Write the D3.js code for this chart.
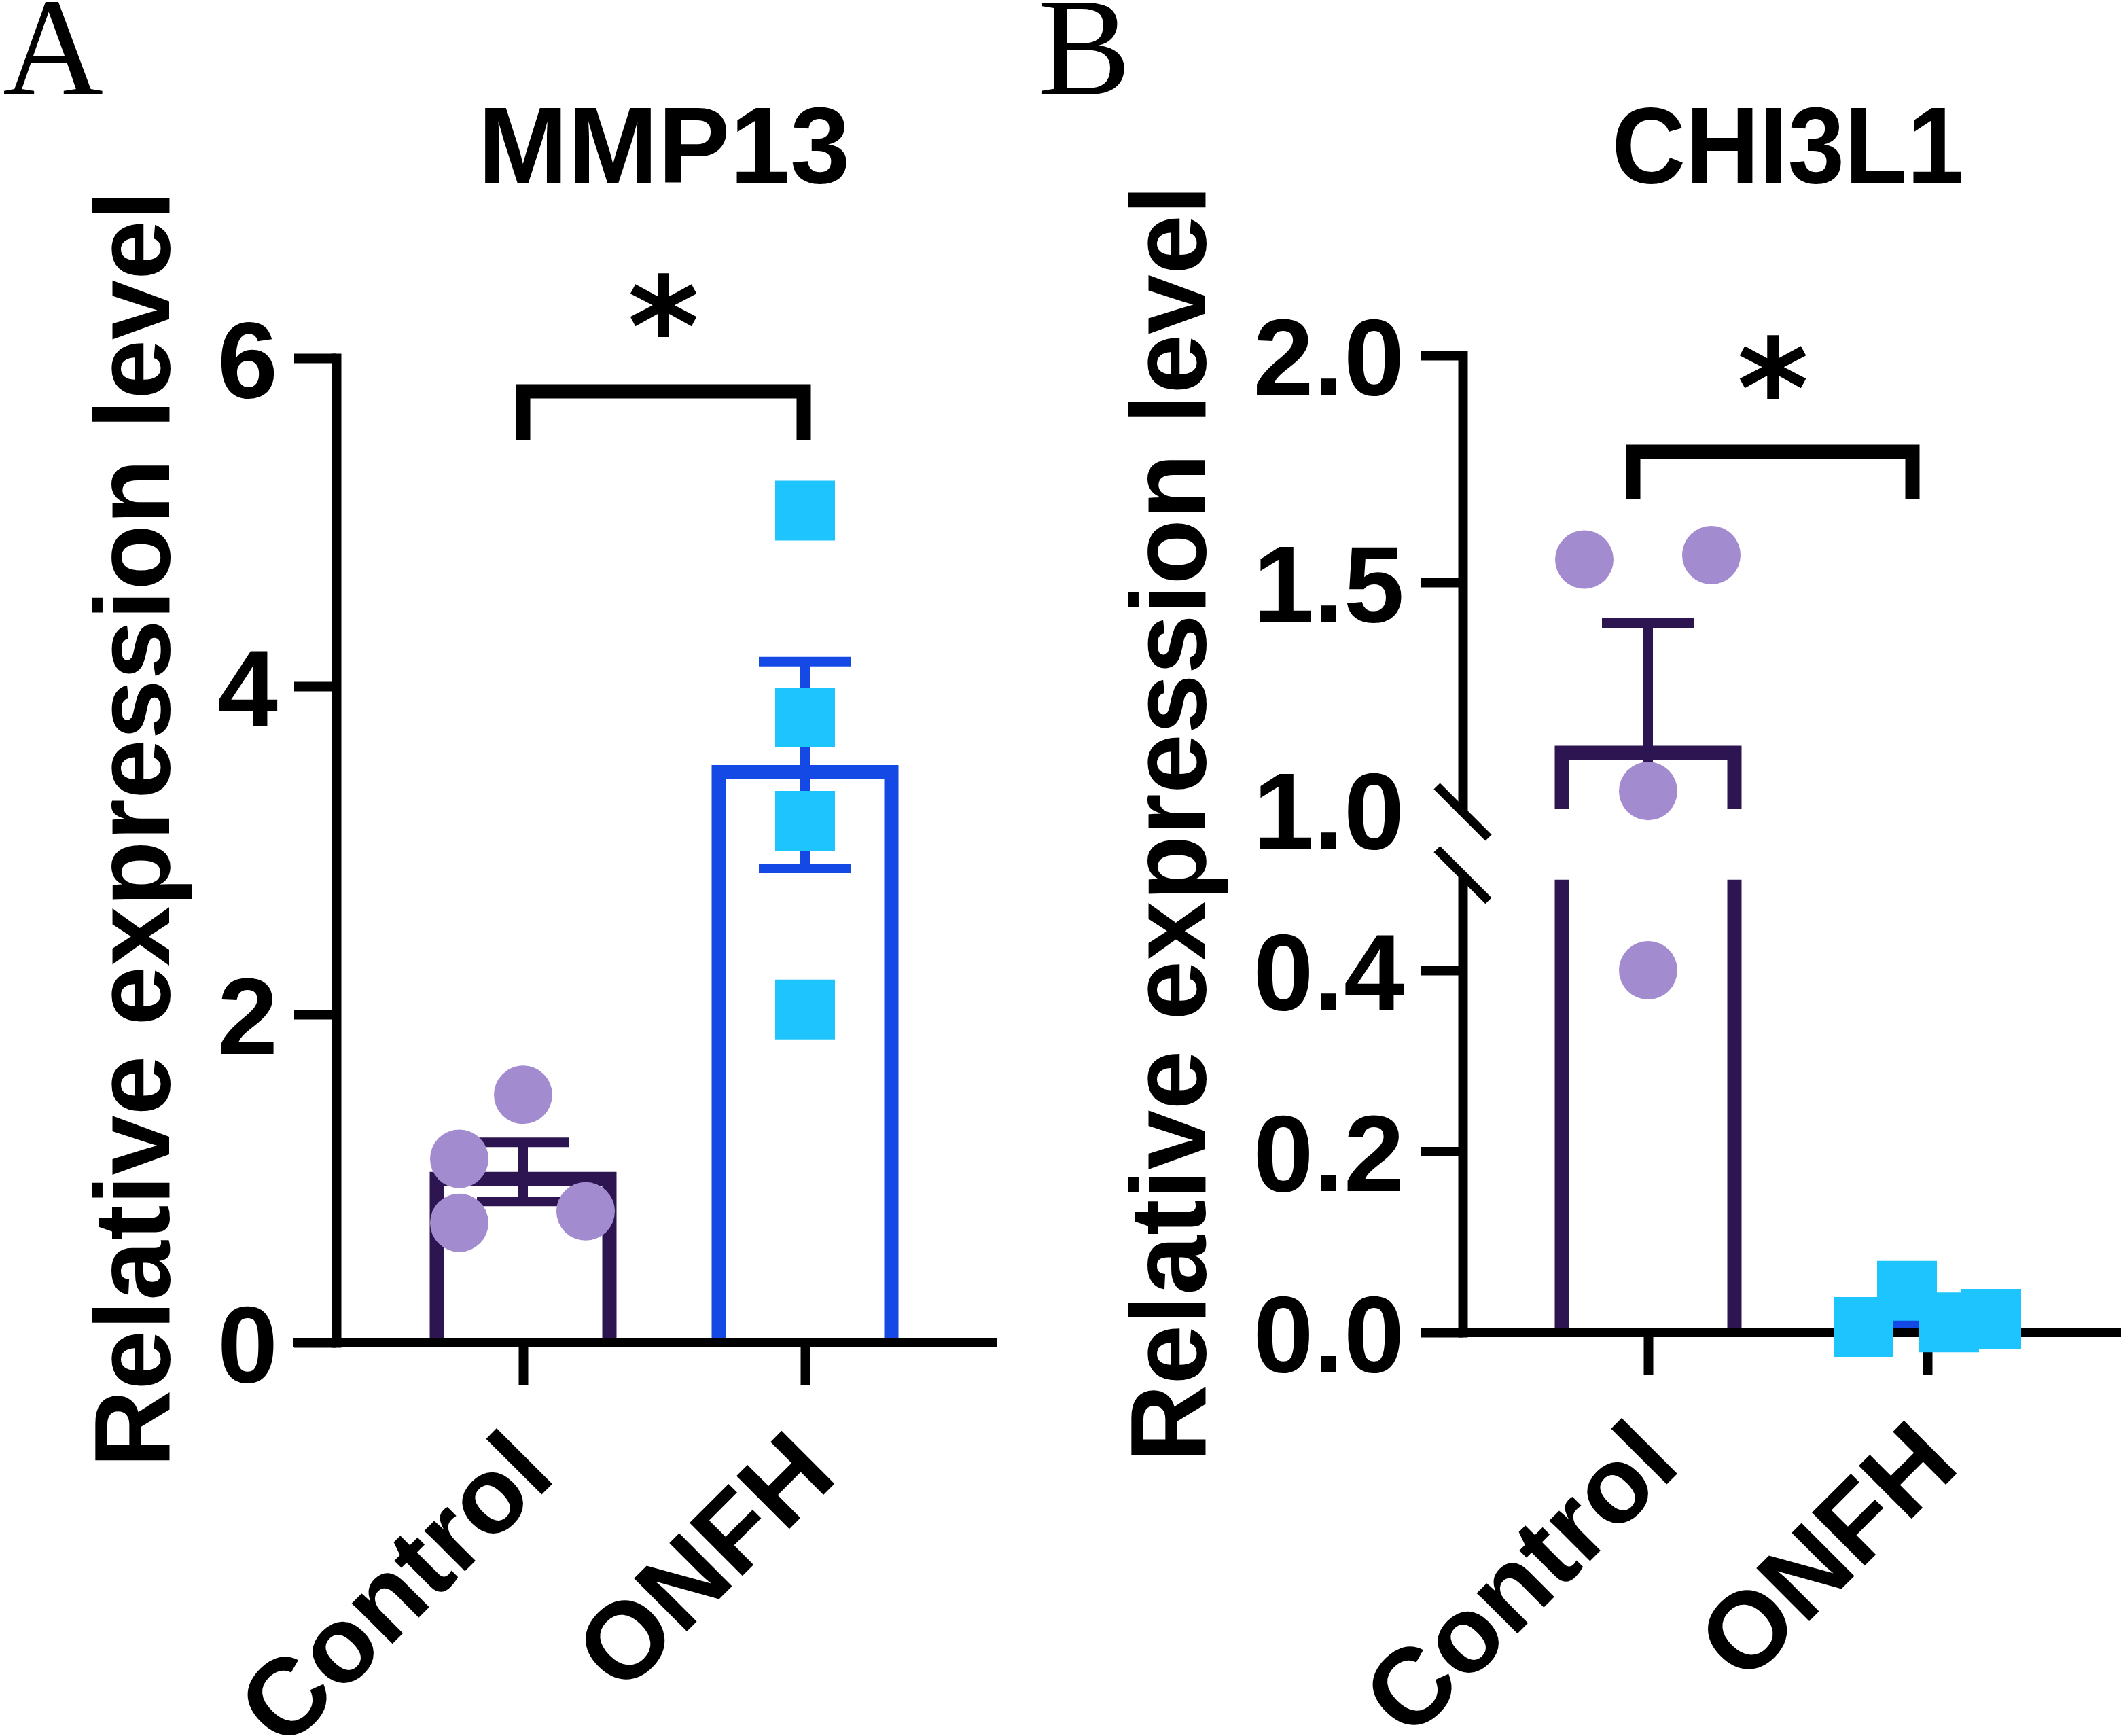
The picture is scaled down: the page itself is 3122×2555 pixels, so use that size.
<!DOCTYPE html>
<html>
<head>
<meta charset="utf-8">
<script src="https://cdn.jsdelivr.net/npm/d3@7"></script>
<style>
  body { margin: 0; background: #fff; }
  svg { display: block; }
</style>
</head>
<body>
<svg id="chart" width="3122" height="2555"></svg>
<script>
// ---- values ----
const groups = ['Control', 'ONFH']

// panel A: MMP13
const mmp13Control = [1.51, 1.12, 0.73, 0.80]
const mmp13Onfh = [5.07, 3.81, 3.18, 2.03]
const mmp13Mean = [1.04, 3.52]
const mmp13Sem = [0.18, 0.63]
const mmp13Ticks = [0, 2, 4, 6]

// panel B: CHI3L1 (broken y axis)
const chi3l1Control = [1.55, 1.56, 1.04, 0.40]
const chi3l1Onfh = [0.006, 0.046, 0.011, 0.015]
const chi3l1Mean = [1.14, 0.014]
const chi3l1Sem = [0.27, 0.009]
const chi3l1TicksLow = [0, 0.2, 0.4]
const chi3l1TicksHigh = [1.0, 1.5, 2.0]

// ---- setup ----
const W = 3122, H = 2555
const font = '"Liberation Sans", Arial, Helvetica, sans-serif'
const strokeColor = ['#2D1552', '#1449E6']
const fillColor = ['#A38BD0', '#1EC4FD']
const barWidth = 275
const barStroke = 21
const capWidth = 136

const svg = d3.select('#chart')
svg.append('rect').attr('width', W).attr('height', H).attr('fill', '#fff')

// layout of each panel (pixels), kept apart from the values
const panels = [
  {
    key: 'A', letterX: 4, title: 'MMP13', titleLength: null,
    centers: [770, 1185], yAxisX: 495, xAxis: [432, 1467], base: 1976,
    yLabelX: 249, yLabelY: 1220,
    segments: [{ domain: [0, 6], range: [1976, 527], ticks: mmp13Ticks, fmt: d3.format('d') }],
    points: [mmp13Control, mmp13Onfh], mean: mmp13Mean, sem: mmp13Sem,
    jitter: [[0, -94, -94, 92], [0, 0, 0, 0]],
    bracket: { dx: [0, -2], y: 576, drop: 71 }, starY: 449
  },
  {
    key: 'B', letterX: 1528, title: 'CHI3L1', titleLength: 518,
    centers: [2426, 2837], yAxisX: 2153, xAxis: [2091, 3122], base: 1961,
    yLabelX: 1774, yLabelY: 1212,
    segments: [
      { domain: [0, 0.5], range: [1961, 1294.75], ticks: chi3l1TicksLow, fmt: d3.format('.1f') },
      { domain: [1, 2], range: [1191, 523], ticks: chi3l1TicksHigh, fmt: d3.format('.1f'), hideTick: [1] }
    ],
    points: [chi3l1Control, chi3l1Onfh], mean: chi3l1Mean, sem: chi3l1Sem,
    jitter: [[-94, 93, 0, 0], [-94, -30, 32, 94]],
    bracket: { dx: [-22, -22], y: 665, drop: 70 }, starY: 540
  }
]

function drawPanel(p) {
  const g = svg.append('g').attr('class', 'panel-' + p.key)
  const x = d3.scalePoint().domain(groups).range(p.centers)
  const segs = p.segments.map(s => ({ ...s, y: d3.scaleLinear().domain(s.domain).range(s.range) }))
  const yOf = v => {
    const s = segs.find(s => v >= s.domain[0] && v <= s.domain[1]) || segs[segs.length - 1]
    return s.y(v)
  }

  // bars + error bars, clipped to each axis segment
  segs.forEach((s, si) => {
    const id = `clip-${p.key}-${si}`
    const top = si === segs.length - 1 ? 0 : s.y(s.domain[1])
    const bottom = si === 0 ? H : s.y(s.domain[0])
    svg.append('clipPath').attr('id', id)
      .append('rect').attr('x', 0).attr('y', top).attr('width', W).attr('height', bottom - top)
    const sg = g.append('g').attr('clip-path', `url(#${id})`)
    const half = barStroke / 2

    sg.selectAll('path.bar')
      .data(groups)
      .join('path')
      .attr('class', 'bar')
      .attr('fill', 'none')
      .attr('stroke', (d, i) => strokeColor[i])
      .attr('stroke-width', barStroke)
      .attr('d', (d, i) => {
        const l = x(d) - barWidth / 2 + half
        const r = x(d) + barWidth / 2 - half
        const t = s.y(p.mean[i]) + half
        const b = s.y(0)
        return `M${l},${b}L${l},${t}L${r},${t}L${r},${b}`
      })

    sg.selectAll('path.err')
      .data(groups)
      .join('path')
      .attr('class', 'err')
      .attr('fill', 'none')
      .attr('stroke', (d, i) => strokeColor[i])
      .attr('stroke-width', 14)
      .attr('d', (d, i) => {
        const hi = s.y(p.mean[i] + p.sem[i])
        const lo = s.y(p.mean[i] - p.sem[i])
        const cx = x(d)
        return `M${cx},${hi}L${cx},${lo}` +
          `M${cx - capWidth / 2},${hi}L${cx + capWidth / 2},${hi}` +
          `M${cx - capWidth / 2},${lo}L${cx + capWidth / 2},${lo}`
      })
  })

  // y axis (one per segment)
  segs.forEach(s => {
    const ax = d3.axisLeft(s.y)
      .tickValues(s.ticks)
      .tickSize(62)
      .tickSizeOuter(0)
      .tickPadding(24)
      .tickFormat(s.fmt)
    const ag = g.append('g').attr('transform', `translate(${p.yAxisX},0)`).call(ax)
    ag.select('.domain').attr('stroke', '#000').attr('stroke-width', 14).attr('stroke-linecap', 'square')
    ag.selectAll('.tick line').attr('stroke', '#000').attr('stroke-width', 14)
      .filter(d => s.hideTick && s.hideTick.includes(d)).attr('stroke', 'none')
    ag.selectAll('.tick text')
      .attr('fill', '#000')
      .attr('font-family', font)
      .attr('font-weight', 'bold')
      .attr('font-size', 160)
      .attr('dy', '0.36em')
  })

  // axis break marks
  if (segs.length > 1) {
    const ends = [segs[1].y(segs[1].domain[0]) + 4, segs[0].y(segs[0].domain[1]) - 7]
    g.selectAll('line.break')
      .data(ends)
      .join('line')
      .attr('class', 'break')
      .attr('x1', p.yAxisX - 38).attr('y1', d => d - 38)
      .attr('x2', p.yAxisX + 38).attr('y2', d => d + 38)
      .attr('stroke', '#000').attr('stroke-width', 13)
  }

  // x axis
  g.append('line')
    .attr('x1', p.xAxis[0]).attr('x2', p.xAxis[1])
    .attr('y1', p.base).attr('y2', p.base)
    .attr('stroke', '#000').attr('stroke-width', 14)
  const xg = g.append('g').attr('transform', `translate(0,${p.base})`)
    .call(d3.axisBottom(x).tickSize(63).tickSizeOuter(0))
  xg.select('.domain').remove()
  xg.selectAll('.tick text').remove()
  xg.selectAll('.tick line').attr('stroke', '#000').attr('stroke-width', 14)

  g.selectAll('text.xlabel')
    .data(groups)
    .join('text')
    .attr('class', 'xlabel')
    .attr('transform', d => `translate(${x(d) + 51},${p.base + 200}) rotate(-45)`)
    .attr('text-anchor', 'end')
    .attr('font-family', font)
    .attr('font-weight', 'bold')
    .attr('font-size', 160)
    .text(d => d)

  // individual points
  const shapes = [d3.symbol().type(d3.symbolCircle).size(Math.PI * 43 * 43),
                  d3.symbol().type(d3.symbolSquare).size(88 * 88)]
  groups.forEach((grp, gi) => {
    g.selectAll(`path.pt${gi}`)
      .data(p.points[gi])
      .join('path')
      .attr('class', `pt${gi}`)
      .attr('d', shapes[gi])
      .attr('fill', fillColor[gi])
      .attr('transform', (v, i) => `translate(${x(grp) + p.jitter[gi][i]},${yOf(v)})`)
  })

  // significance bracket
  const bx0 = x(groups[0]) + p.bracket.dx[0]
  const bx1 = x(groups[1]) + p.bracket.dx[1]
  g.append('path')
    .attr('fill', 'none')
    .attr('stroke', '#000')
    .attr('stroke-width', 21)
    .attr('d', `M${bx0},${p.bracket.y + p.bracket.drop}L${bx0},${p.bracket.y}L${bx1},${p.bracket.y}L${bx1},${p.bracket.y + p.bracket.drop}`)
  // six-armed asterisk, as in the figure
  g.append('text')
    .attr('x', (bx0 + bx1) / 2)
    .attr('y', p.starY + 103)
    .attr('text-anchor', 'middle')
    .attr('font-family', '"DejaVu Sans", sans-serif')
    .attr('font-weight', 'bold')
    .attr('font-size', 202)
    .text('*')

  // titles
  const title = g.append('text')
    .attr('x', (p.centers[0] + p.centers[1]) / 2)
    .attr('y', 269)
    .attr('text-anchor', 'middle')
    .attr('font-family', font)
    .attr('font-weight', 'bold')
    .attr('font-size', 159)
    .text(p.title)
  if (p.titleLength) title.attr('textLength', p.titleLength).attr('lengthAdjust', 'spacingAndGlyphs')

  g.append('text')
    .attr('transform', `translate(${p.yLabelX},${p.yLabelY}) rotate(-90)`)
    .attr('text-anchor', 'middle')
    .attr('font-family', font)
    .attr('font-weight', 'bold')
    .attr('font-size', 158)
    .text('Relative expression level')

  g.append('text')
    .attr('x', p.letterX)
    .attr('y', 139)
    .attr('font-family', '"Liberation Serif", "Times New Roman", serif')
    .attr('font-size', 205)
    .text(p.key)
}

panels.forEach(drawPanel)
</script>
</body>
</html>
